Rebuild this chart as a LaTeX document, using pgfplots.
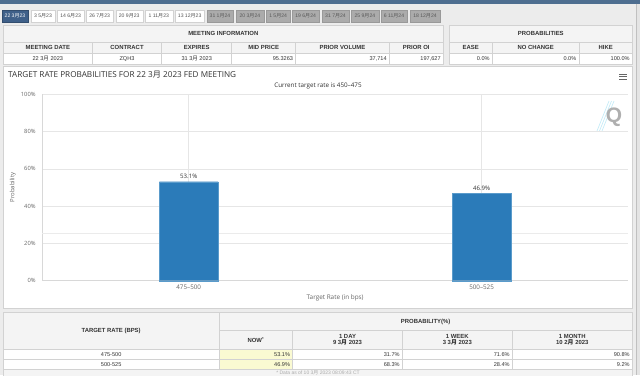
\documentclass[border=0pt]{standalone}
\usepackage{pgfplots}
\pgfplotsset{compat=1.18}
\usepackage{fontspec}
\setmainfont{Open Sans}
\newfontfamily\tabfont{Liberation Sans}
\newfontfamily\cjk{Noto Sans CJK SC}
\newcommand{\yue}{{\cjk 月}}
\definecolor{barblue}{HTML}{2B7BB9}
\definecolor{barborder}{HTML}{5A9BCB}
\definecolor{topblue}{HTML}{4E6E90}
\definecolor{selblue}{HTML}{3F6089}
\definecolor{bggrey}{HTML}{ECECEC}
\definecolor{bordgrey}{HTML}{D2D2D2}
\definecolor{hdrgrey}{HTML}{F4F4F4}
\definecolor{tabgrey}{HTML}{ABABAB}
\definecolor{tabgreyb}{HTML}{999999}
\definecolor{tabtxt}{HTML}{555555}
\definecolor{tabtxtg}{HTML}{5A5A5A}
\definecolor{edgegrey}{HTML}{E4E4E4}
\definecolor{edgeline}{HTML}{C0C0C0}
\definecolor{txt}{HTML}{333333}
\definecolor{lbl}{HTML}{666666}
\definecolor{gridc}{HTML}{E6E6E6}
\definecolor{bandc}{HTML}{EBEBEB}
\definecolor{axisc}{HTML}{D8D8D8}
\definecolor{yel}{HTML}{FAFAD2}
\definecolor{qgrey}{HTML}{AFAFAF}
\definecolor{qcyan}{HTML}{BFEAF7}
\definecolor{foot}{HTML}{AAAAAA}
\tikzset{
  hfont/.style={font=\tabfont\bfseries\fontsize{5.95}{6.7}\selectfont, text=txt, inner sep=0pt},
  dfont/.style={font=\tabfont\fontsize{5.6}{6.4}\selectfont, text=txt, inner sep=0pt},
  cellb/.style={draw=bordgrey, line width=0.5bp}
}
% header cell (grey, bold, centred)
\newcommand{\hcell}[5]{%
  \filldraw[cellb, fill=hdrgrey] (#1,#2) rectangle (#3,#4);
  \node[hfont, align=center] at ({(#1+#3)/2},{(#2+#4)/2}) {#5};}
% data cell centred
\newcommand{\dcellc}[5]{%
  \filldraw[cellb, fill=white] (#1,#2) rectangle (#3,#4);
  \node[dfont] at ({(#1+#3)/2},{(#2+#4)/2}) {#5};}
% data cell right aligned, with fill
\newcommand{\dcellr}[6]{%
  \filldraw[cellb, fill=#5] (#1,#2) rectangle (#3,#4);
  \node[dfont, anchor=east] at ({#3-2.5},{(#2+#4)/2}) {#6};}
\begin{document}
\begin{tikzpicture}
\begin{scope}[x=1bp,y=-1bp]
\useasboundingbox (0,0) rectangle (640,375);
\fill[bggrey] (0,0) rectangle (640,375);
\fill[topblue] (0,0) rectangle (640,3.5);
\fill[edgegrey] (636,3.5) rectangle (640,375);
\draw[edgeline, line width=0.6bp] (636,3.5) -- (636,375);
% tabs
\filldraw[fill=selblue, draw=selblue!80!black, line width=0.4bp] (1.7,10) rectangle (28.3,22);
\node[font=\tabfont\fontsize{5.1}{5}\selectfont, text=white, inner sep=0pt] at (15,16) {22 3\yue23};
\foreach \a/\b/\t in {31/55/{3 5\yue23}, 57.3/84/{14 6\yue23}, 86/113.3/{26 7\yue23},
   115.7/142.7/{20 9\yue23}, 145/172.7/{1 11\yue23}, 175/204.3/{13 12\yue23}}{
  \filldraw[fill=white, draw=bordgrey, line width=0.4bp] (\a,10) rectangle (\b,22);
  \node[font=\tabfont\fontsize{5.1}{5}\selectfont, text=tabtxt, inner sep=0pt] at ({(\a+\b)/2},16) {\t};
}
\foreach \a/\b/\t in {206.7/233.3/{31 1\yue24}, 235.7/264/{20 3\yue24}, 266.3/290/{1 5\yue24},
   292.3/319/{19 6\yue24}, 321.7/349.3/{31 7\yue24}, 351/378.7/{25 9\yue24},
   380.7/407.3/{6 11\yue24}, 410/440/{18 12\yue24}}{
  \filldraw[fill=tabgrey, draw=tabgreyb, line width=0.4bp] (\a,10) rectangle (\b,22);
  \node[font=\tabfont\fontsize{5.1}{5}\selectfont, text=tabtxtg, inner sep=0pt] at ({(\a+\b)/2},16) {\t};
}
% meeting information table
\hcell{3.3}{25}{443.3}{42.3}{MEETING INFORMATION}
\hcell{3.3}{42.3}{92.3}{53.3}{MEETING DATE}
\hcell{92.3}{42.3}{161.7}{53.3}{CONTRACT}
\hcell{161.7}{42.3}{231.7}{53.3}{EXPIRES}
\hcell{231.7}{42.3}{295.7}{53.3}{MID PRICE}
\hcell{295.7}{42.3}{389.3}{53.3}{PRIOR VOLUME}
\hcell{389.3}{42.3}{443.3}{53.3}{PRIOR OI}
\dcellc{3.3}{53.3}{92.3}{64}{22 3\yue\ 2023}
\dcellc{92.3}{53.3}{161.7}{64}{ZQH3}
\dcellc{161.7}{53.3}{231.7}{64}{31 3\yue\ 2023}
\dcellr{231.7}{53.3}{295.7}{64}{white}{95.3263}
\dcellr{295.7}{53.3}{389.3}{64}{white}{37,714}
\dcellr{389.3}{53.3}{443.3}{64}{white}{197,627}
% probabilities table
\hcell{449.3}{25}{632.3}{42.3}{PROBABILITIES}
\hcell{449.3}{42.3}{492.3}{53.3}{EASE}
\hcell{492.3}{42.3}{579}{53.3}{NO CHANGE}
\hcell{579}{42.3}{632.3}{53.3}{HIKE}
\dcellr{449.3}{53.3}{492.3}{64}{white}{0.0\%}
\dcellr{492.3}{53.3}{579}{64}{white}{0.0\%}
\dcellr{579}{53.3}{632.3}{64}{white}{100.0\%}
% chart panel
\filldraw[fill=white, draw=bordgrey, line width=0.6bp] (3.3,66.5) rectangle (632.3,308);
\node[anchor=west, inner sep=0pt, font=\fontsize{8.2}{9}\selectfont, text=txt] at (8,74.5)
  {TARGET RATE PROBABILITIES FOR 22 3\yue\ 2023 FED MEETING};
\node[inner sep=0pt, font=\fontsize{6.3}{7}\selectfont, text=txt] at (318,86)
  {Current target rate is 450–475};
\foreach \yy in {74.6,76.8,79}{
  \draw[lbl, line width=0.9bp] (619,\yy) -- (627,\yy);
}
% watermark
\foreach \dx in {0,2.5,5}{
  \draw[qcyan, line width=0.6bp] (597+\dx,131) -- (609+\dx,101);
}
\node[font=\tabfont\bfseries\fontsize{21}{21}\selectfont, text=qgrey, inner sep=0pt] at (614,117) {Q};
% bottom table
\hcell{3.3}{312.7}{219}{349}{TARGET RATE (BPS)}
\hcell{219}{312.7}{632.3}{330.7}{PROBABILITY(\%)}
\hcell{219}{330.7}{292.7}{349}{NOW\textsuperscript{*}}
\hcell{292.7}{330.7}{402.3}{349}{1 DAY\\9 3\yue\ 2023}
\hcell{402.3}{330.7}{512.3}{349}{1 WEEK\\3 3\yue\ 2023}
\hcell{512.3}{330.7}{632.3}{349}{1 MONTH\\10 2\yue\ 2023}
\dcellc{3.3}{349}{219}{359.3}{475-500}
\dcellc{3.3}{359.3}{219}{369.3}{500-525}
\dcellr{219}{349}{292.7}{359.3}{yel}{53.1\%}
\dcellr{219}{359.3}{292.7}{369.3}{yel}{46.9\%}
\dcellr{292.7}{349}{402.3}{359.3}{white}{31.7\%}
\dcellr{292.7}{359.3}{402.3}{369.3}{white}{68.3\%}
\dcellr{402.3}{349}{512.3}{359.3}{white}{71.6\%}
\dcellr{402.3}{359.3}{512.3}{369.3}{white}{28.4\%}
\dcellr{512.3}{349}{632.3}{359.3}{white}{90.8\%}
\dcellr{512.3}{359.3}{632.3}{369.3}{white}{9.2\%}
\filldraw[cellb, fill=hdrgrey] (3.3,369.3) rectangle (632.3,380);
\node[inner sep=0pt, text=foot, font=\tabfont\fontsize{5}{5}\selectfont] at (318,373.2)
  {* Data as of 10 3\yue\ 2023 08:09:43 CT};
\end{scope}

\begin{axis}[
  at={(42.3bp,-280.7bp)}, anchor=south west,
  scale only axis, width=585.7bp, height=186.4bp,
  xmin=-0.5, xmax=1.5, ymin=0, ymax=100,
  xtick={0,1}, xticklabels={475–500,500–525},
  ytick={0,20,40,60,80,100},
  yticklabel={\pgfmathprintnumber{\tick}\%},
  /pgf/number format/assume math mode=true,
  axis x line*=bottom, axis y line*=left,
  axis line style={draw=axisc, line width=0.6bp},
  major tick length=0pt,
  ymajorgrids, xmajorgrids,
  grid style={draw=gridc, line width=0.6bp},
  yticklabel style={font=\fontsize{5.8}{6}\selectfont, text=lbl, inner sep=0pt, xshift=-6.5bp},
  xticklabel style={font=\fontsize{6.3}{7}\selectfont, text=lbl, inner sep=0pt, yshift=-4.5bp},
  xlabel={Target Rate (in bps)},
  xlabel style={at={(axis description cs:0.5,-0.0912)}, anchor=center,
    font=\fontsize{6.4}{7}\selectfont, text=lbl},
  ylabel={Probability},
  ylabel style={at={(axis description cs:-0.0505,0.5)}, anchor=center,
    font=\fontsize{6}{7}\selectfont, text=lbl},
  ybar, bar width=58.7bp,
  nodes near coords={\pgfmathprintnumber[fixed,precision=1,fixed zerofill]{\pgfplotspointmeta}\%},
  every node near coord/.append style={font=\fontsize{6.1}{7}\selectfont, text=txt, inner sep=0pt, yshift=3bp},
  clip=false,
]
\draw[bandc, line width=1.2bp] (axis cs:-0.5,25.4) -- (axis cs:1.5,25.4);
\addplot[fill=barblue, draw=barborder, line width=0.4bp] coordinates {(0,53.1) (1,46.9)};
\end{axis}
\end{tikzpicture}
\end{document}
